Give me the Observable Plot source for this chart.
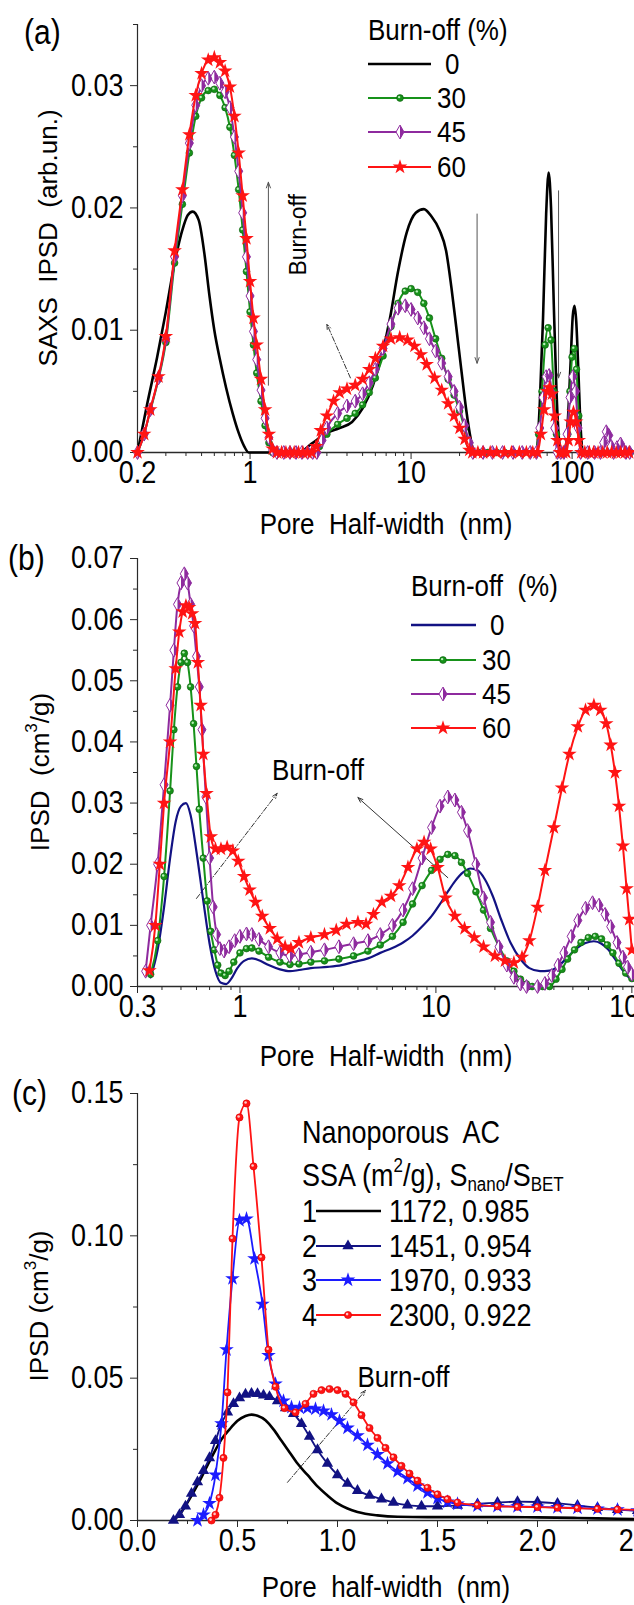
<!DOCTYPE html>
<html><head><meta charset="utf-8">
<script src="https://cdn.jsdelivr.net/npm/d3@7"></script>
<script src="https://cdn.jsdelivr.net/npm/@observablehq/plot@0.6"></script>
<style>
html,body{margin:0;padding:0;background:#fff;overflow:hidden;}
#root{position:relative;width:634px;height:1605px;overflow:hidden;background:#fff;}
.panel{position:absolute;left:0;width:660px;}
#overlay{position:absolute;left:0;top:0;}
</style></head><body><div id="root"></div>
<script>
const FONT = '"Liberation Sans", Arial, Helvetica, sans-serif';
const FS = 26;      // titles / legends
const FT = 27;      // tick labels
const STRETCH = 1.15;

// ---------------- Panel (a): SAXS IPSD ----------------
const aXMajor = [0.2, 1, 10, 100];
const aXMajorLabels = ["0.2", "1", "10", "100"];
const aXMinor = [0.3,0.4,0.5,0.6,0.7,0.8,0.9,2,3,4,5,6,7,8,9,20,30,40,50,60,70,80,90,200,300];
const aYMajor = [0, 0.01, 0.02, 0.03];
const aYMinor = [0.005, 0.015, 0.025, 0.035];
const aLegend = ["0", "30", "45", "60"];

const a_bo0 = [[0.2,0],[0.23,0.004],[0.265,0.0078],[0.3,0.0115],[0.34,0.0155],[0.38,0.0182],[0.41,0.0194],[0.44,0.0197],[0.48,0.019],[0.52,0.0163],[0.56,0.0128],[0.6,0.01],[0.65,0.0076],[0.71,0.0053],[0.78,0.0032],[0.85,0.0016],[0.92,0.0005],[0.98,0],[1.5,0],[2.0,0],[2.4,0.0007],[3.0,0.0016],[3.6,0.002],[4.3,0.0025],[5.0,0.0036],[5.8,0.0055],[6.6,0.008],[7.4,0.011],[8.3,0.0148],[9.4,0.018],[10.7,0.0196],[12,0.0199],[13.4,0.0193],[15,0.0182],[16.5,0.0165],[17.8,0.0135],[19.1,0.0102],[20.5,0.0068],[22,0.0035],[23.4,0.0012],[24.6,0],[35,0],[50,0],[60,0],[63,0.004],[66,0.011],[69,0.0195],[71.5,0.0229],[74,0.02],[77,0.012],[80,0.005],[83,0.001],[86,0],[90,0],[94,0.0025],[98,0.0075],[101,0.0112],[103.5,0.012],[106,0.0108],[109.5,0.0065],[113,0.002],[117,0],[354,0]];
const a_bo30 = [[0.2,0],[0.22,0.0015],[0.24,0.0034],[0.27,0.006],[0.3,0.009],[0.34,0.0155],[0.38,0.0203],[0.42,0.0245],[0.46,0.0275],[0.5,0.029],[0.55,0.0296],[0.6,0.0297],[0.65,0.0292],[0.7,0.0282],[0.75,0.0266],[0.8,0.0243],[0.85,0.0215],[0.9,0.0182],[0.95,0.0148],[1.0,0.0115],[1.05,0.0088],[1.1,0.0065],[1.17,0.0042],[1.24,0.0022],[1.31,0.0008],[1.38,0],[1.52,0],[1.67,0],[1.82,0],[1.98,0],[2.15,0],[2.33,0],[2.5,0],[2.7,0.0005],[3.0,0.0015],[3.5,0.0023],[4.0,0.0028],[4.5,0.0032],[5.0,0.0039],[5.5,0.0049],[6.0,0.0061],[6.7,0.0079],[7.5,0.0103],[8.3,0.0122],[9.2,0.0132],[10,0.0134],[11,0.0131],[12,0.0122],[13,0.011],[14.2,0.0093],[15.5,0.0077],[17,0.006],[18.5,0.0047],[20,0.0034],[21.5,0.002],[23,0.0007],[24.2,0],[27,0],[30,0],[34,0],[38,0],[43,0],[48,0],[54,0],[59,0],[62,0.0015],[65,0.005],[68,0.0088],[71,0.0102],[74,0.0092],[77,0.005],[80,0.0015],[83,0],[87,0],[91,0],[94,0.0015],[97,0.005],[100,0.0078],[103,0.0085],[106.5,0.0068],[110,0.003],[114,0],[125,0],[140,0],[155,0],[170,0],[190,0],[210,0],[230,0]];
const a_bo45 = [[0.2,0],[0.22,0.0015],[0.24,0.0035],[0.27,0.0061],[0.3,0.0093],[0.34,0.016],[0.38,0.021],[0.42,0.0253],[0.46,0.0284],[0.5,0.03],[0.55,0.0306],[0.6,0.0307],[0.65,0.0302],[0.7,0.0295],[0.75,0.0282],[0.8,0.0258],[0.85,0.023],[0.9,0.0196],[0.95,0.016],[1.0,0.0128],[1.05,0.0099],[1.1,0.0076],[1.17,0.0051],[1.24,0.0028],[1.31,0.0012],[1.38,0.0002],[1.47,0],[1.62,0],[1.77,0],[1.93,0],[2.1,0],[2.28,0],[2.45,0],[2.6,0],[2.8,0.001],[3.0,0.002],[3.5,0.0032],[4.0,0.0038],[4.5,0.0042],[5.0,0.0048],[5.5,0.0057],[6.0,0.0068],[6.7,0.0085],[7.5,0.0105],[8.3,0.0118],[9.2,0.012],[10,0.0117],[11,0.011],[12,0.0102],[13,0.0093],[14.2,0.0083],[15.5,0.0073],[17,0.0062],[18.5,0.005],[20,0.0037],[21.5,0.0022],[23,0.0008],[24.2,0],[28,0],[32,0],[37,0],[43,0],[49,0],[55,0],[60,0],[63,0.002],[66,0.0045],[69,0.0062],[72,0.0063],[75,0.0048],[78,0.002],[81,0],[85,0],[89,0],[93,0.0015],[97,0.0045],[101,0.0062],[105,0.005],[109,0.002],[113,0],[125,0],[138,0],[150,0],[157,0.0008],[163,0.0017],[169,0.0014],[175,0.0005],[181,0],[190,0.0004],[200,0.0007],[208,0.0002],[216,0],[228,0]];
const a_bo60 = [[0.2,0],[0.22,0.0015],[0.24,0.0035],[0.27,0.0062],[0.3,0.0095],[0.34,0.0165],[0.38,0.0215],[0.42,0.026],[0.46,0.0292],[0.5,0.031],[0.55,0.0321],[0.6,0.0323],[0.65,0.0319],[0.7,0.0312],[0.75,0.0299],[0.8,0.0275],[0.85,0.0245],[0.9,0.021],[0.95,0.0175],[1.0,0.014],[1.05,0.011],[1.1,0.0088],[1.17,0.006],[1.24,0.0035],[1.31,0.0015],[1.38,0.0003],[1.47,0],[1.57,0],[1.67,0],[1.77,0],[1.88,0],[2.0,0],[2.13,0],[2.27,0],[2.42,0],[2.57,0.0005],[2.75,0.0018],[3.0,0.003],[3.3,0.0042],[3.6,0.0049],[4.0,0.0052],[4.5,0.0055],[5.0,0.006],[5.5,0.0068],[6.0,0.0077],[6.7,0.0087],[7.5,0.0093],[8.5,0.0094],[9.5,0.0092],[10.5,0.0087],[11.5,0.008],[12.5,0.0072],[14,0.0061],[15.5,0.0051],[17,0.004],[18.5,0.003],[20,0.002],[21.5,0.0011],[23,0.0002],[24,0],[26,0],[28,0],[31,0],[34,0],[38,0],[42,0],[47,0],[52,0],[57,0],[61,0],[64,0.0015],[67,0.0035],[70,0.005],[72.5,0.0053],[75,0.0048],[78,0.003],[81,0.001],[84,0],[88,0],[92,0],[95,0.001],[98,0.0025],[102,0.0033],[106,0.0025],[110,0.001],[114,0],[120,0],[128,0],[136,0],[145,0],[155,0],[165,0],[176,0],[188,0],[200,0],[213,0],[226,0]];

const aArrows = [{x1:1.3,y1:0.0055,x2:1.3,y2:0.0221},{x1:25.7,y1:0.0195,x2:25.7,y2:0.0073},{x1:82.4,y1:0.0214,x2:82.4,y2:0.0061}];
const aDashArrows = [{x1:4.2,y1:0.0061,x2:3.0,y2:0.0105}];
const aNotes = [{x:2.0,y:0.0178,text:"Burn-off"}];

// ---------------- Panel (b): IPSD ----------------
const bXMajor = [0.3, 1, 10, 100];
const bXMajorLabels = ["0.3", "1", "10", "100"];
const bXMinor = [0.4,0.5,0.6,0.7,0.8,0.9,2,3,4,5,6,7,8,9,20,30,40,50,60,70,80,90];
const bYMajor = [0,0.01,0.02,0.03,0.04,0.05,0.06,0.07];
const bYMinor = [0.005,0.015,0.025,0.035,0.045,0.055,0.065];
const bLegend = ["0", "30", "45", "60"];

const b_bo0 = [[0.35,0.0015],[0.38,0.006],[0.41,0.013],[0.44,0.021],[0.47,0.027],[0.5,0.0295],[0.53,0.030],[0.56,0.028],[0.6,0.022],[0.65,0.014],[0.7,0.007],[0.75,0.0025],[0.8,0.0006],[0.85,0.0004],[0.9,0.0012],[0.97,0.003],[1.05,0.0042],[1.15,0.0046],[1.25,0.0043],[1.4,0.0035],[1.6,0.0028],[1.8,0.0025],[2.0,0.0027],[2.3,0.003],[2.8,0.0032],[3.3,0.0035],[3.8,0.004],[4.5,0.0046],[5.2,0.0055],[6.0,0.0063],[6.8,0.0072],[7.6,0.0083],[8.5,0.0098],[9.5,0.0115],[10.5,0.0135],[11.5,0.0155],[12.5,0.0172],[13.8,0.0187],[15,0.0193],[16.3,0.019],[17.8,0.0175],[19.5,0.0148],[21.5,0.011],[24,0.0072],[27,0.0045],[30,0.003],[34,0.0025],[38,0.0026],[42,0.0033],[47,0.0048],[52,0.0062],[58,0.0071],[64,0.0074],[70,0.007],[76,0.006],[82,0.0045],[89,0.0028],[95,0.0017],[100,0.0012]];
const b_bo30 = [[0.35,0.002],[0.38,0.0075],[0.41,0.018],[0.44,0.032],[0.46,0.042],[0.48,0.049],[0.5,0.053],[0.52,0.0545],[0.54,0.053],[0.56,0.049],[0.58,0.043],[0.6,0.036],[0.62,0.029],[0.65,0.021],[0.68,0.014],[0.71,0.009],[0.74,0.006],[0.77,0.0035],[0.8,0.0022],[0.84,0.0018],[0.88,0.0025],[0.93,0.004],[1.0,0.0055],[1.08,0.0062],[1.15,0.0063],[1.25,0.0058],[1.4,0.0048],[1.6,0.004],[1.8,0.0036],[2.0,0.0037],[2.3,0.004],[2.7,0.0042],[3.2,0.0045],[3.8,0.005],[4.5,0.0058],[5.2,0.0068],[6.0,0.0082],[6.8,0.0105],[7.6,0.0135],[8.5,0.0165],[9.5,0.019],[10.5,0.0208],[11.5,0.0216],[12.5,0.0214],[13.5,0.0203],[14.5,0.0185],[16,0.0155],[17.5,0.0125],[19,0.0095],[21,0.0065],[23,0.0042],[25,0.0025],[27,0.0012],[29,0.0004],[31,0],[35,0],[38,0],[41,0.0012],[44,0.0028],[47,0.0045],[51,0.006],[55,0.0072],[60,0.008],[65,0.0082],[70,0.0078],[75,0.0068],[80,0.0055],[86,0.0038],[93,0.0022],[100,0.0013]];
const b_bo45 = [[0.33,0.0025],[0.35,0.01],[0.38,0.02],[0.41,0.033],[0.44,0.046],[0.46,0.055],[0.48,0.0625],[0.5,0.066],[0.52,0.0675],[0.54,0.066],[0.56,0.0625],[0.58,0.059],[0.6,0.054],[0.62,0.049],[0.64,0.042],[0.67,0.031],[0.7,0.021],[0.73,0.013],[0.76,0.0085],[0.79,0.0062],[0.83,0.0058],[0.88,0.0065],[0.94,0.0075],[1.0,0.0082],[1.08,0.0086],[1.15,0.0085],[1.25,0.0077],[1.4,0.0065],[1.6,0.0055],[1.8,0.005],[2.0,0.0052],[2.3,0.0056],[2.7,0.006],[3.2,0.0065],[3.8,0.007],[4.5,0.0075],[5.2,0.0085],[6.0,0.01],[6.8,0.0125],[7.6,0.016],[8.5,0.021],[9.5,0.026],[10.5,0.0295],[11.5,0.031],[12.5,0.0305],[13.5,0.0285],[14.5,0.0255],[16,0.02],[17.5,0.0145],[19,0.0105],[21,0.0065],[23,0.0035],[25,0.0015],[27,0.0004],[29,0],[33,0],[36,0.0005],[39,0.0018],[42,0.0035],[45,0.0055],[49,0.0082],[53,0.0108],[58,0.0128],[63,0.0137],[68,0.0133],[73,0.0118],[78,0.0098],[84,0.0072],[90,0.0048],[95,0.0032],[100,0.002]];
const b_bo60 = [[0.345,0.0026],[0.37,0.01],[0.39,0.02],[0.41,0.03],[0.44,0.04],[0.47,0.052],[0.49,0.058],[0.51,0.0613],[0.53,0.0623],[0.55,0.062],[0.57,0.061],[0.59,0.0594],[0.61,0.053],[0.63,0.046],[0.65,0.038],[0.675,0.0316],[0.71,0.0245],[0.75,0.0225],[0.8,0.0225],[0.86,0.0228],[0.92,0.0222],[0.98,0.0205],[1.05,0.018],[1.12,0.0158],[1.2,0.0138],[1.3,0.0115],[1.42,0.0095],[1.55,0.0078],[1.7,0.0065],[1.82,0.0062],[2.0,0.0072],[2.3,0.008],[2.7,0.0085],[3.1,0.0092],[3.5,0.0102],[4.0,0.0105],[4.4,0.0102],[4.8,0.0118],[5.3,0.0138],[5.9,0.0148],[6.5,0.0165],[7.2,0.0195],[8.0,0.0225],[8.7,0.0236],[9.4,0.0225],[10.2,0.0195],[11.2,0.0145],[12.5,0.0115],[14,0.0095],[15.7,0.008],[17.5,0.0065],[20,0.005],[22.5,0.0042],[25,0.0039],[27.5,0.0048],[30,0.0075],[33,0.013],[36,0.019],[40,0.026],[44,0.0325],[48,0.038],[53,0.0425],[58,0.0452],[64,0.046],[69,0.0452],[74,0.043],[78,0.0395],[82,0.035],[86,0.0295],[90,0.023],[94,0.016],[97,0.011],[100,0.006]];

const bDashArrows = [{x1:0.6,y1:0.0144,x2:1.55,y2:0.0316}];
const bArrows = [{x1:11.5,y1:0.0178,x2:4.0,y2:0.0309}];
const bNotes = [{x:2.5,y:0.0353,text:"Burn-off"}];

// ---------------- Panel (c): Nanoporous AC ----------------
const cXMajor = [0, 0.5, 1, 1.5, 2, 2.5];
const cXMajorLabels = ["0.0", "0.5", "1.0", "1.5", "2.0", "2.5"];
const cXMinor = [0.25, 0.75, 1.25, 1.75, 2.25];
const cYMajor = [0, 0.05, 0.10, 0.15];
const cYMinor = [0.025, 0.075, 0.125];
const cLegendNum = ["1", "2", "3", "4"];
const cLegendText = ["1172, 0.985", "1451, 0.954", "1970, 0.933", "2300, 0.922"];

const c_s1 = [[0.18,0],[0.22,0.003],[0.26,0.0075],[0.3,0.0125],[0.34,0.018],[0.38,0.0235],[0.42,0.0285],[0.46,0.032],[0.5,0.035],[0.54,0.0367],[0.57,0.0372],[0.6,0.0368],[0.64,0.0352],[0.68,0.032],[0.72,0.028],[0.76,0.024],[0.8,0.02],[0.85,0.016],[0.9,0.012],[0.95,0.0088],[1.0,0.006],[1.05,0.0042],[1.1,0.003],[1.2,0.0018],[1.3,0.0013],[1.45,0.0012],[1.6,0.0012],[1.8,0.0012],[2.0,0.0011],[2.2,0.0009],[2.4,0.0006],[2.6,0.0004]];
const c_s2 = [[0.18,0],[0.21,0.002],[0.24,0.005],[0.27,0.0095],[0.3,0.0135],[0.33,0.0175],[0.36,0.022],[0.39,0.028],[0.42,0.034],[0.45,0.038],[0.48,0.041],[0.51,0.043],[0.54,0.0443],[0.57,0.0446],[0.6,0.0445],[0.63,0.044],[0.66,0.0435],[0.7,0.042],[0.74,0.0395],[0.78,0.0375],[0.82,0.034],[0.86,0.0295],[0.9,0.0248],[0.95,0.02],[1.0,0.016],[1.05,0.013],[1.1,0.0105],[1.16,0.0088],[1.22,0.0075],[1.28,0.0063],[1.35,0.0054],[1.42,0.005],[1.5,0.005],[1.6,0.0053],[1.7,0.0058],[1.8,0.0063],[1.9,0.0066],[2.0,0.0065],[2.1,0.006],[2.2,0.0053],[2.3,0.0045],[2.4,0.0038],[2.5,0.0034],[2.6,0.0032]];
const c_s3 = [[0.3,0],[0.33,0.002],[0.36,0.006],[0.39,0.016],[0.42,0.034],[0.445,0.06],[0.475,0.085],[0.51,0.1054],[0.545,0.106],[0.585,0.092],[0.625,0.076],[0.655,0.058],[0.69,0.048],[0.73,0.042],[0.77,0.0398],[0.81,0.0396],[0.85,0.0395],[0.89,0.0392],[0.93,0.0385],[0.97,0.0372],[1.01,0.035],[1.05,0.0325],[1.1,0.0298],[1.15,0.0265],[1.2,0.0232],[1.25,0.02],[1.3,0.0172],[1.35,0.0148],[1.4,0.0122],[1.45,0.0098],[1.5,0.0078],[1.55,0.0065],[1.6,0.0058],[1.7,0.0052],[1.8,0.005],[1.9,0.0049],[2.0,0.0048],[2.1,0.0046],[2.2,0.0044],[2.3,0.0041],[2.4,0.0038],[2.5,0.0035],[2.6,0.0033]];
const c_s4 = [[0.37,0],[0.39,0.002],[0.41,0.008],[0.43,0.022],[0.45,0.045],[0.475,0.099],[0.51,0.1416],[0.545,0.1465],[0.58,0.1244],[0.62,0.0924],[0.655,0.06],[0.69,0.047],[0.735,0.0395],[0.79,0.038],[0.84,0.041],[0.88,0.0445],[0.92,0.0458],[0.96,0.0462],[1.0,0.0458],[1.04,0.0445],[1.08,0.0415],[1.12,0.037],[1.16,0.0325],[1.2,0.029],[1.24,0.0255],[1.28,0.0222],[1.32,0.0192],[1.36,0.0165],[1.4,0.014],[1.45,0.0115],[1.5,0.0092],[1.55,0.0075],[1.6,0.0063],[1.7,0.0054],[1.8,0.005],[1.9,0.0048],[2.0,0.0047],[2.1,0.0045],[2.2,0.0043],[2.3,0.0041],[2.4,0.0039],[2.5,0.0037],[2.6,0.0035]];

const cDashArrows = [{x1:0.75,y1:0.0134,x2:1.14,y2:0.0457}];
const cNotes = [{x:1.33,y:0.0502,text:"Burn-off"}];

// ---------------- styles ----------------
const GREEN = "#17921a", GREEN_D = "#0b5c0d", GREEN_L = "#b9f0b9";
const PURPLE = "#8e2a9e";
const RED = "#ff1414", RED_L = "#ffc8c8";
const NAVY = "#121283", BLUE = "#1c1cff";
const AXIS = "#2a2a2a";
const halfDiamond = {draw(ctx, size) {
  const t = Math.sqrt(1/3);
  const y = Math.sqrt(size / (2*t)), x = y * t;
  ctx.moveTo(0, -y); ctx.lineTo(x, 0); ctx.lineTo(0, y); ctx.closePath();
}};
const X = d => d[0], Y = d => d[1];

function axes(xMaj, xLab, xMin, yMaj, yMin, yFmt, x0) {
  return [
    Plot.axisX(xMaj, {anchor:"bottom", tickSize:7, tickFormat:()=>"", label:null, stroke:AXIS}),
    Plot.axisX(xMin, {anchor:"bottom", tickSize:4, tickFormat:()=>"", label:null, stroke:AXIS}),
    Plot.text(xMaj, {x:d=>d, text:(d,i)=>xLab[i], frameAnchor:"bottom", lineAnchor:"top", dy:10, fontSize:FT, fill:"#000"}),
    Plot.axisY(yMaj, {anchor:"left", tickSize:7, tickPadding:7, tickFormat:yFmt, fontSize:FT, label:null, stroke:AXIS}),
    Plot.axisY(yMin, {anchor:"left", tickSize:4, tickFormat:()=>"", label:null, stroke:AXIS}),
    Plot.ruleY([0], {stroke:AXIS, strokeWidth:1.4}),
    Plot.ruleX([x0], {stroke:AXIS, strokeWidth:1.2})
  ];
}
function greenSeries(data) { return [
  Plot.line(data, {x:X, y:Y, stroke:GREEN, strokeWidth:2, curve:"monotone-x"}),
  Plot.dot(data, {x:X, y:Y, r:3.4, fill:GREEN, stroke:GREEN_D, strokeWidth:0.6}),
  Plot.dot(data, {x:X, y:Y, r:1.2, fill:GREEN_L, dx:-0.9, dy:-0.9})
];}
function purpleSeries(data) { return [
  Plot.line(data, {x:X, y:Y, stroke:PURPLE, strokeWidth:2, curve:"monotone-x"}),
  Plot.dot(data, {x:X, y:Y, r:4.2, symbol:"diamond", fill:"#fff", stroke:PURPLE, strokeWidth:1}),
  Plot.dot(data, {x:X, y:Y, r:4.2, symbol:halfDiamond, fill:PURPLE})
];}
function redStarSeries(data) { return [
  Plot.line(data, {x:X, y:Y, stroke:RED, strokeWidth:2, curve:"monotone-x"}),
  Plot.dot(data, {x:X, y:Y, r:4.6, symbol:"star", fill:RED})
];}
const baseStyle = {fontFamily:FONT, fontSize:FS+"px", color:"#000", background:"transparent", maxWidth:"none", overflow:"visible"};

const root = document.getElementById("root");
function place(svg, top) {
  const div = document.createElement("div");
  div.className = "panel"; div.style.top = top + "px";
  div.appendChild(svg); root.appendChild(div);
}

// Panel (a)
const plotA = Plot.plot({
  width:660, height:500, marginLeft:137, marginRight:0, marginTop:24, marginBottom:48,
  style: baseStyle,
  x: {type:"log", domain:[0.2, 354]},
  y: {domain:[0, 0.035]},
  marks: [
    ...axes(aXMajor, aXMajorLabels, aXMinor, aYMajor, aYMinor, d3.format(".2f"), 0.2),
    Plot.arrow(aArrows, {x1:"x1", y1:"y1", x2:"x2", y2:"y2", stroke:"#555", strokeWidth:1, headLength:9, headAngle:40}),
    Plot.arrow(aDashArrows, {x1:"x1", y1:"y1", x2:"x2", y2:"y2", stroke:"#333", strokeWidth:1, strokeDasharray:"5,2,1,2", headLength:8, headAngle:40}),
    Plot.text(aNotes, {x:"x", y:"y", text:"text", rotate:-90, fontSize:23, fill:"#000"}),
    Plot.line(a_bo0, {x:X, y:Y, stroke:"#000", strokeWidth:2.6, curve:"monotone-x"}),
    ...greenSeries(a_bo30),
    ...purpleSeries(a_bo45),
    ...redStarSeries(a_bo60)
  ]
});
place(plotA, 0);

// Panel (b)
const plotB = Plot.plot({
  width:660, height:500, marginLeft:137, marginRight:0, marginTop:18, marginBottom:54,
  style: baseStyle,
  x: {type:"log", domain:[0.3, 140]},
  y: {domain:[0, 0.07]},
  marks: [
    ...axes(bXMajor, bXMajorLabels, bXMinor, bYMajor, bYMinor, d3.format(".2f"), 0.3),
    Plot.arrow(bDashArrows, {x1:"x1", y1:"y1", x2:"x2", y2:"y2", stroke:"#333", strokeWidth:1, strokeDasharray:"5,2,1,2", headLength:8, headAngle:40}),
    Plot.arrow(bArrows, {x1:"x1", y1:"y1", x2:"x2", y2:"y2", stroke:"#333", strokeWidth:1, headLength:8, headAngle:40}),
    Plot.text(bNotes, {x:"x", y:"y", text:"text", fontSize:FS, fill:"#000"}),
    Plot.line(b_bo0, {x:X, y:Y, stroke:NAVY, strokeWidth:2.2, curve:"monotone-x"}),
    ...greenSeries(b_bo30),
    ...purpleSeries(b_bo45),
    ...redStarSeries(b_bo60)
  ]
});
place(plotB, 540);

// Panel (c)
const plotC = Plot.plot({
  width:660, height:495, marginLeft:137, marginRight:0, marginTop:18, marginBottom:50,
  style: baseStyle,
  x: {domain:[0, 2.615]},
  y: {domain:[0, 0.15]},
  marks: [
    ...axes(cXMajor, cXMajorLabels, cXMinor, cYMajor, cYMinor, d3.format(".2f"), 0),
    Plot.arrow(cDashArrows, {x1:"x1", y1:"y1", x2:"x2", y2:"y2", stroke:"#333", strokeWidth:1, strokeDasharray:"5,2,1,2", headLength:8, headAngle:40}),
    Plot.text(cNotes, {x:"x", y:"y", text:"text", fontSize:FS, fill:"#000"}),
    Plot.line(c_s1, {x:X, y:Y, stroke:"#000", strokeWidth:2.6, curve:"monotone-x"}),
    Plot.line(c_s2, {x:X, y:Y, stroke:NAVY, strokeWidth:1.8, curve:"monotone-x"}),
    Plot.dot(c_s2, {x:X, y:Y, r:4.2, symbol:"triangle", fill:NAVY}),
    Plot.line(c_s3, {x:X, y:Y, stroke:BLUE, strokeWidth:1.8, curve:"monotone-x"}),
    Plot.dot(c_s3, {x:X, y:Y, r:4.6, symbol:"star", fill:BLUE}),
    Plot.line(c_s4, {x:X, y:Y, stroke:RED, strokeWidth:1.8, curve:"monotone-x"}),
    Plot.dot(c_s4, {x:X, y:Y, r:3.6, fill:RED, stroke:"#d00", strokeWidth:0.6}),
    Plot.dot(c_s4, {x:X, y:Y, r:1.3, fill:RED_L, dx:-0.9, dy:-0.9})
  ]
});
place(plotC, 1075);

// ---------------- overlay: titles, panel labels, legends ----------------
const ov = d3.select(root).append("svg").attr("id","overlay")
  .attr("width",634).attr("height",1605)
  .style("font-family",FONT).style("font-size",FS+"px");

function txt(x, y, s, opts={}) {
  const t = ov.append("text").attr("x",x).attr("y",y)
    .attr("dominant-baseline","central")
    .attr("text-anchor", opts.anchor || "start")
    .attr("xml:space","preserve").style("white-space","pre")
    .attr("fill","#000");
  if (opts.size) t.attr("font-size", opts.size);
  if (opts.rotate) t.attr("transform", `rotate(-90 ${x} ${y})`);
  if (Array.isArray(s)) {
    s.forEach(p => {
      const sp = t.append("tspan").text(p.t);
      if (p.dy) sp.attr("dy", p.dy);
      if (p.fs) sp.attr("font-size", p.fs);
    });
  } else t.text(s);
  return t;
}
// panel labels
txt(24, 32, "(a)", {size:30});
txt(8, 558, "(b)", {size:30});
txt(12, 1093, "(c)", {size:30});
// axis titles
txt(386, 524, "Pore  Half-width  (nm)", {anchor:"middle"});
txt(386, 1056, "Pore  Half-width  (nm)", {anchor:"middle"});
txt(386, 1587, "Pore  half-width  (nm)", {anchor:"middle"});
txt(48, 238, "SAXS  IPSD  (arb.un.)", {anchor:"middle", rotate:true});
txt(40, 772, [{t:"IPSD  (cm"},{t:"3",dy:-9,fs:17},{t:"/g)",dy:9}], {anchor:"middle", rotate:true});
txt(39, 1306, [{t:"IPSD (cm"},{t:"3",dy:-9,fs:17},{t:"/g)",dy:9}], {anchor:"middle", rotate:true});

function sym(type, x, y, r, fill, stroke, sw) {
  return ov.append("path").attr("d", d3.symbol(type, r*r*Math.PI)())
    .attr("transform",`translate(${x},${y})`).attr("fill",fill)
    .attr("stroke",stroke||"none").attr("stroke-width",sw||0);
}
function seg(x1, x2, y, color, w) {
  ov.append("line").attr("x1",x1).attr("x2",x2).attr("y1",y).attr("y2",y)
    .attr("stroke",color).attr("stroke-width",w);
}
function burnLegend(x0, x1, xm, lx, ty, rows, title, zeroColor, labels) {
  txt(x0, ty, title);
  seg(x0, x1, rows[0], zeroColor, 2.6);
  seg(x0, x1, rows[1], GREEN, 2);
  sym(d3.symbolCircle, xm, rows[1], 3.4, GREEN, GREEN_D, 0.6);
  sym(d3.symbolCircle, xm-0.9, rows[1]-0.9, 1.2, GREEN_L);
  seg(x0, x1, rows[2], PURPLE, 2);
  sym(d3.symbolDiamond, xm, rows[2], 4.2, "#fff", PURPLE, 1);
  sym(halfDiamond, xm, rows[2], 4.2, PURPLE);
  seg(x0, x1, rows[3], RED, 2);
  sym(d3.symbolStar, xm, rows[3], 4.6, RED);
  txt(lx + 8, rows[0], labels[0]);
  for (let i = 1; i < 4; i++) txt(lx, rows[i], labels[i]);
}
burnLegend(368, 431, 400, 437, 30, [64, 98, 132, 167], "Burn-off (%)", "#000", aLegend);
burnLegend(411, 476, 443, 482, 586, [625, 660, 694, 728], "Burn-off  (%)", NAVY, bLegend);

// legend (c)
const FL = 27;
txt(302, 1132, "Nanoporous  AC", {size:FL});
txt(302, 1175, [{t:"SSA (m"},{t:"2",dy:-9,fs:17},{t:"/g), S",dy:9},{t:"nano",dy:7,fs:17},{t:"/S",dy:-7},{t:"BET",dy:7,fs:17}], {size:FL});
const cRows = [1211, 1246, 1280, 1315];
cRows.forEach((y, i) => txt(302, y, cLegendNum[i], {size:FL}));
seg(316, 381, cRows[0], "#000", 2.6);
seg(316, 381, cRows[1], NAVY, 1.8); sym(d3.symbolTriangle, 348, cRows[1], 4.2, NAVY);
seg(316, 381, cRows[2], BLUE, 1.8); sym(d3.symbolStar, 348, cRows[2], 4.6, BLUE);
seg(316, 381, cRows[3], RED, 1.8); sym(d3.symbolCircle, 348, cRows[3], 3.6, RED, "#d00", 0.6);
sym(d3.symbolCircle, 347.1, cRows[3]-0.9, 1.3, RED_L);
cRows.forEach((y, i) => txt(389, y, cLegendText[i], {size:FL}));

// vertical stretch of horizontal text (the reference figure is stretched vertically)
root.querySelectorAll("text").forEach(t => {
  const tr = t.getAttribute("transform") || "";
  if (tr.includes("rotate")) return;
  const b = t.getBBox();
  if (!b.height) return;
  const cy = b.y + b.height / 2;
  t.setAttribute("transform", `${tr} translate(0,${cy}) scale(1,${STRETCH}) translate(0,${-cy})`);
});
</script></body></html>
